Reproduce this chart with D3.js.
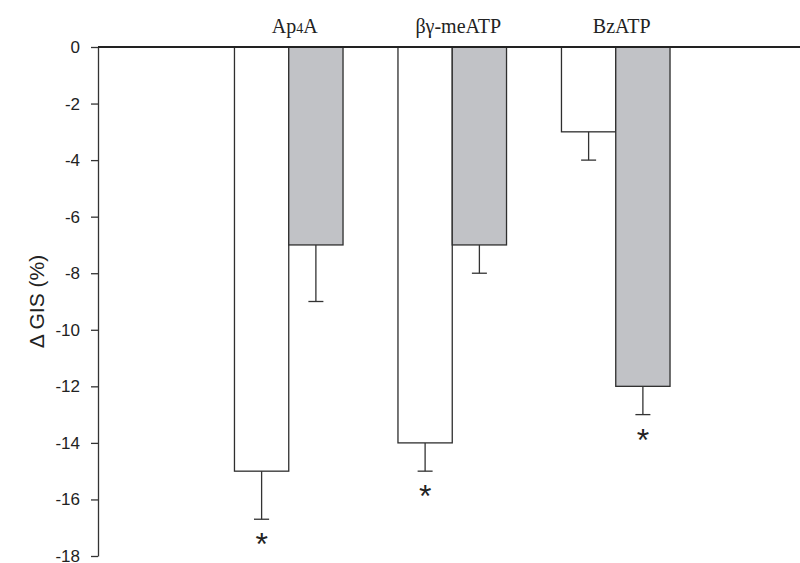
<!DOCTYPE html>
<html>
<head>
<meta charset="utf-8">
<script src="https://cdn.jsdelivr.net/npm/d3@7"></script>
<style>
  body { margin: 0; background: #fff; }
  svg { display: block; }
  .tick text { font-family: "Liberation Sans", Arial, sans-serif; font-size: 17px; fill: #222; }
  .tick line, .domain { stroke: #333; stroke-width: 1.3px; }
</style>
</head>
<body>
<svg id="chart" width="800" height="563"></svg>
<script>
// data
var categories = ["Ap4A", "βγ-meATP", "BzATP"];
var whiteValues = [-15, -14, -3];   // open bars
var whiteErrors = [1.7, 1.0, 1.0];
var whiteStars = [true, true, false];
var grayValues = [-7, -7, -12];     // shaded bars
var grayErrors = [2.0, 1.0, 1.0];
var grayStars = [false, false, true];
var yTicks = [0, -2, -4, -6, -8, -10, -12, -14, -16, -18];

var svg = d3.select("#chart"),
    width = +svg.attr("width"),
    height = +svg.attr("height");

var axisX = 98; // left axis position

var y = d3.scaleLinear()
    .domain([0, -18])
    .range([47, 556]);

// one band per compound, white + gray bar side by side
var x = d3.scaleBand()
    .domain(categories)
    .range([207, 697.5])
    .paddingInner(0.336)
    .paddingOuter(0.168);

var xSeries = d3.scaleBand()
    .domain(["white", "gray"])
    .range([0, x.bandwidth()]);

// build rows from the arrays
var bars = [];
categories.forEach(function(c, i) {
  bars.push({cat: c, series: "white", value: whiteValues[i], err: whiteErrors[i], star: whiteStars[i]});
  bars.push({cat: c, series: "gray", value: grayValues[i], err: grayErrors[i], star: grayStars[i]});
});

var fills = {white: "#ffffff", gray: "#c1c2c6"};

function barCenter(d) {
  return x(d.cat) + xSeries(d.series) + xSeries.bandwidth() / 2;
}

// bars
svg.append("g")
  .selectAll("rect")
  .data(bars)
  .enter().append("rect")
  .attr("x", function(d) { return x(d.cat) + xSeries(d.series); })
  .attr("y", y(0))
  .attr("width", xSeries.bandwidth())
  .attr("height", function(d) { return y(d.value) - y(0); })
  .attr("fill", function(d) { return fills[d.series]; })
  .attr("stroke", "#2e2e2e")
  .attr("stroke-width", 1.3);

// error bars (only the lower half)
var err = svg.append("g")
  .attr("stroke", "#333")
  .attr("stroke-width", 1.3)
  .selectAll("g")
  .data(bars)
  .enter().append("g");

err.append("line")
  .attr("x1", barCenter)
  .attr("x2", barCenter)
  .attr("y1", function(d) { return y(d.value); })
  .attr("y2", function(d) { return y(d.value - d.err); });

err.append("line")
  .attr("x1", function(d) { return barCenter(d) - 7.5; })
  .attr("x2", function(d) { return barCenter(d) + 7.5; })
  .attr("y1", function(d) { return y(d.value - d.err); })
  .attr("y2", function(d) { return y(d.value - d.err); });

// significance marks
svg.append("g")
  .selectAll("text")
  .data(bars.filter(function(d) { return d.star; }))
  .enter().append("text")
  .attr("x", barCenter)
  .attr("y", function(d) { return y(d.value - d.err) + 36; })
  .attr("text-anchor", "middle")
  .attr("font-family", "Liberation Sans, Arial, sans-serif")
  .attr("font-size", 32)
  .attr("fill", "#222")
  .text("*");

// y axis, plain hyphen minus like the original
svg.append("g")
  .attr("transform", "translate(" + axisX + ",0)")
  .call(d3.axisLeft(y)
    .tickValues(yTicks)
    .tickFormat(function(d) { return String(d); })
    .tickSize(7)
    .tickSizeOuter(0)
    .tickPadding(11));

// zero line across the whole width
svg.append("line")
  .attr("x1", axisX)
  .attr("x2", width)
  .attr("y1", y(0))
  .attr("y2", y(0))
  .attr("stroke", "#222")
  .attr("stroke-width", 2.2);

// compound names above the bars
var labels = svg.append("g")
  .selectAll("text")
  .data(categories)
  .enter().append("text")
  .attr("x", function(d) { return x(d) + x.bandwidth() / 2 + 6; })
  .attr("y", 33)
  .attr("text-anchor", "middle")
  .attr("font-family", "Liberation Serif, Times New Roman, serif")
  .attr("font-size", 20)
  .attr("fill", "#222");

labels.each(function(d) {
  var t = d3.select(this);
  if (d === "Ap4A") { // subscript 4
    t.append("tspan").text("Ap");
    t.append("tspan").attr("font-size", 14).text("4");
    t.append("tspan").text("A");
  } else {
    t.text(d);
  }
});

// y axis title
svg.append("text")
  .attr("transform", "translate(44," + (y(-9)) + ") rotate(-90)")
  .attr("text-anchor", "middle")
  .attr("font-family", "Liberation Sans, Arial, sans-serif")
  .attr("font-size", 21)
  .attr("fill", "#222")
  .text("Δ GIS (%)");
</script>
</body>
</html>
